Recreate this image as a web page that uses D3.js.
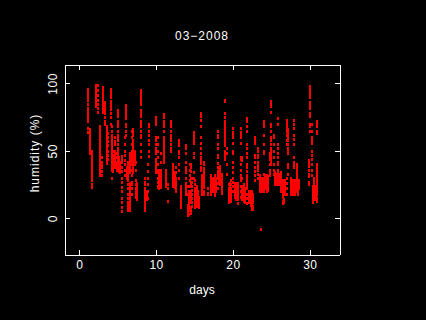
<!DOCTYPE html>
<html>
<head>
<meta charset="utf-8">
<script src="https://cdn.jsdelivr.net/npm/d3@7"></script>
<style>
html, body { margin: 0; padding: 0; background: #000; }
svg { display: block; }
text { font-family: "Liberation Sans", sans-serif; font-size: 12px; fill: #fff; }
</style>
</head>
<body>
<div id="chart"></div>
<script>
const TITLE = '03\u22122008';
const X_LABEL = 'days';
const Y_LABEL = 'humidity (%)';
const X_TICKS = [0, 10, 20, 30];
const Y_TICKS = [0, 50, 100];

// readings grouped by the time they were taken at: days[i] goes with humidity[i]
const days = [
    1.08, 1.39, 1.69, 2.12, 2.38, 2.68, 2.9, 3.1, 3.3, 3.55, 3.8, 4.07, 4.2, 4.6, 5.06, 5.5,
    6.06, 5.9, 6.4, 6.8, 7.0, 7.4, 8.0, 8.5, 9.05, 8.9, 10.05, 10.3, 10.7, 11.0, 11.3, 11.6,
    12.0, 12.2, 12.55, 13.0, 13.3, 13.85, 14.15, 14.5, 14.9, 14.4, 14.7, 15.0, 15.3, 15.6,
    15.9, 16.2, 16.0, 16.8, 17.2, 17.6, 18.0, 18.3, 18.6, 18.9, 19.2, 19.5, 19.8, 20.0,
    20.4, 20.7, 21.0, 21.2, 21.5, 21.8, 22.1, 22.5, 22.9, 23.3, 23.6, 24.0, 24.4, 24.8,
    25.0, 25.3, 25.5, 25.9, 26.3, 26.6, 27.0, 27.2, 27.6, 28.0, 28.3, 28.6, 29.9, 30.05,
    30.3, 30.6, 30.9,
    // second pass over the dense patches
    3.65, 4.45, 4.9, 5.2, 5.35, 6.2, 6.55, 6.6, 7.2, 7.45, 8.6, 8.75, 10.4, 10.6, 12.3, 12.5,
    14.3, 15.15, 15.45, 17.4, 17.8, 18.2, 19.65, 20.2, 20.6, 21.4, 22.3, 22.6, 23.5, 23.8,
    24.2, 24.6, 25.65, 25.8, 26.1, 26.45, 26.8, 27.8, 28.1, 28.4, 30.45, 30.75
];
const humidity = [
    [96, 94, 92, 90, 88, 85, 82, 80, 78, 76, 74, 72, 67, 64],
    [66, 64, 62, 60, 58, 56, 54, 52, 50, 48],
    [50, 48, 46, 44, 42, 40, 38, 36, 34, 32, 30, 28, 25, 23],
    [99, 97, 95, 93, 91, 89, 87, 85, 83],
    [99, 95, 91, 88, 85, 82, 79],
    [68, 66, 64, 62, 60, 58, 56, 54, 52, 50, 48, 46, 44, 42, 40, 38, 36, 34, 32],
    [45, 42, 40, 38, 35, 32],
    [97, 95, 93, 91, 89, 87, 85, 83, 81, 79],
    [86, 84, 82, 80, 78, 75, 72, 70],
    [68, 66, 64, 62, 60, 58, 56, 54, 50, 48, 46, 44, 42],
    [63, 60, 57, 54, 50, 47, 44],
    [96, 94, 92, 90, 87, 85, 83, 81, 78, 75, 70],
    [68, 65, 62, 60, 58, 56, 54, 52, 50, 48, 46, 44, 42, 40, 38, 36, 30],
    [60, 57, 55, 50, 48, 46, 44, 42, 40, 38],
    [80, 78, 76, 72, 70, 68, 65, 62, 60, 58, 55, 52, 50, 48, 46, 44, 42],
    [46, 44, 42, 38, 35, 30, 27, 23, 20, 15, 12, 8, 5],
    [84, 82, 80, 78, 76, 74, 70, 68, 65, 62],
    [60, 55, 50, 47, 43, 40, 36, 32],
    [42, 40, 38, 36, 34, 32, 30, 28, 25, 22, 18, 15, 12, 10, 8, 6],
    [65, 60, 55, 50, 48, 46, 44, 42, 40, 36, 32, 27, 25, 22, 18],
    [66, 64, 62, 58, 56, 54, 52, 50, 48, 46, 44, 42, 40, 38, 36, 34],
    [42, 36, 28, 25, 22, 20, 18, 16],
    [95, 93, 91, 89, 87, 85, 80, 78, 76, 72, 70, 68, 65, 62, 60, 55, 50, 45],
    [30, 27, 25, 22, 20, 18, 16, 14, 12, 10, 8, 6],
    [70, 68, 65, 62, 58, 55, 50, 46],
    [40, 35, 30, 25, 20, 15],
    [75, 74, 72, 70, 60, 58, 55, 52, 50, 48, 44, 42, 40, 38, 36, 34],
    [60, 55, 50, 45, 40, 36, 34, 30, 27, 24, 23],
    [48, 42, 36, 30, 24],
    [77, 75, 72, 70, 68, 65, 60, 58, 56, 54, 52, 50, 48, 46, 44, 42],
    [36, 34, 32, 30, 28, 26, 24],
    [25, 22, 13],
    [72, 70, 68, 65, 62, 60, 58, 55, 52, 50],
    [40, 38, 36, 34, 32, 30, 28, 26, 24],
    [38, 34, 30, 28, 26, 24, 22, 20],
    [58, 56, 54, 50, 48, 45, 40, 36, 30],
    [24, 22, 20, 18, 16, 14, 12, 10, 8],
    [54, 52, 48, 42, 38, 36, 34, 30, 26, 24, 22, 20, 18],
    [24, 18, 10, 8, 6, 4, 2],
    [40, 38, 35, 30, 26, 20, 18, 16, 14, 12, 8, 6, 4],
    [64, 62, 60, 58, 56, 48, 45, 34, 30],
    [40, 36, 32, 28, 24, 20, 16, 12, 8],
    [30, 27, 24, 21, 18, 15, 12, 9],
    [28, 25, 22, 20, 18, 16, 14, 12, 10, 8],
    [24, 22, 20, 18, 16, 14, 12, 10, 9],
    [16, 14, 12, 10, 8],
    [78, 77, 76, 73, 68, 60, 56, 52, 48, 45, 43, 41, 38, 36],
    [42, 40, 37, 35, 33, 31, 29, 27, 25, 23, 20, 18],
    [32, 30, 28, 26, 24, 22, 20, 18],
    [22, 19, 18],
    [32, 30, 28, 26, 24, 22, 20, 18],
    [32, 30, 28, 26, 24, 22, 20, 18, 17],
    [65, 62, 60, 55, 52, 47, 45, 41, 38, 35, 33, 32, 30, 26, 22],
    [39, 37, 35, 33, 31, 29, 27, 25],
    [33, 31, 29, 27, 25, 24, 22, 20, 19],
    [88, 87, 78, 75, 72, 70, 68, 66, 64, 62, 60, 58, 56, 54, 50, 48, 46, 44],
    [52, 48, 40, 33],
    [25, 22, 20, 18, 16, 14, 13, 12],
    [28, 25, 22, 20, 18, 16, 14, 13],
    [67, 64, 62, 60, 56, 50, 48, 42, 38, 34, 30, 27, 24, 20],
    [26, 24, 22, 20, 18, 16, 14],
    [24, 22, 20, 18, 14, 11],
    [67, 64, 62, 60, 56, 45, 44, 40, 36, 32, 30, 28, 24, 20, 16],
    [45, 44, 43, 30, 24, 22, 20, 18, 16, 14],
    [22, 20, 18, 16, 14, 12],
    [74, 72, 68, 65, 55, 52, 48, 45, 40, 38, 35, 32, 30, 28, 26, 24, 22, 18, 15, 11],
    [20, 18, 16, 14, 12],
    [20, 18, 16, 14, 12, 10, 8, 7],
    [60, 58, 56, 47, 45, 42, 38, 35, 32, 28],
    [52, 50, 47, 45, 42, 40, 38, 36, 33, 30],
    [28, 25, 22, 20, -8],
    [72, 70, 68, 62, 55, 50, 48, 33, 30, 28, 26, 24, 22, 20],
    [32, 30, 28, 26, 24, 22, 20],
    [48, 46, 44, 40, 36, 34, 32],
    [87, 85, 83, 79, 70, 68, 65, 60, 58, 55, 52, 50, 48, 46, 44, 42, 40],
    [62, 60, 55, 50, 45, 40, 36, 33],
    [34, 32, 30, 28, 26, 25],
    [74, 70, 55, 52, 48, 45, 42, 40, 36, 34, 32],
    [34, 32, 30, 28, 26, 24, 22, 20],
    [26, 22, 20, 18, 14, 12],
    [73, 71, 69, 67, 65, 62, 58, 55, 30, 26, 22, 18],
    [66, 64, 62, 60, 58, 55, 52, 50, 48, 40, 38, 33],
    [30, 28, 26, 24, 22, 20, 18],
    [73, 70, 67, 62, 59, 55, 45, 42, 40, 38],
    [40, 38, 36, 34, 32, 30, 28, 26, 24, 22, 20],
    [28, 26, 24, 22],
    [43, 41, 39, 36, 33, 31, 27, 25],
    [98, 96, 94, 92, 90, 86, 84, 82, 78, 77, 76, 70, 68, 65],
    [70, 65, 60, 58, 56, 50, 47, 44, 40, 36, 32],
    [30, 28, 26, 24, 22, 20, 18, 16, 14],
    [72, 70, 68, 65, 63, 40, 38, 36, 34, 32, 30, 28, 26, 24, 22, 20, 18, 15, 13],
    [55, 52, 50, 47, 44, 41],
    [50, 47, 45, 43, 41, 39, 37, 35],
    [48, 45, 42, 40, 38, 36],
    [45, 43, 41, 39, 37, 35],
    [42, 40, 38, 36, 34],
    [38, 36, 34, 32, 30],
    [26, 24, 22, 20, 18, 16, 14, 12, 10, 8, 6],
    [48, 46, 44, 42, 40, 38, 36, 34],
    [50, 48, 46, 44, 42, 40],
    [26, 24, 22, 20, 18, 16, 14],
    [21, 19, 17, 15, 13, 11, 9, 7],
    [20, 18, 16, 14],
    [36, 34, 32, 30, 28, 26, 24, 22],
    [34, 32, 30, 28, 26, 24, 23],
    [34, 32, 30, 28, 26, 24],
    [33, 31, 29, 27, 25, 23],
    [20, 18, 16, 14, 12, 10, 8, 6, 3],
    [22, 20, 18, 16, 14, 12, 10],
    [20, 18, 16, 14, 12],
    [30, 28, 26, 24, 22, 20],
    [30, 28, 26, 24, 22, 20],
    [38, 36, 34, 32, 30, 28],
    [26, 24, 22, 20, 18, 16, 14],
    [26, 24, 22, 20, 18, 16],
    [26, 24, 22, 20, 18, 16, 14],
    [25, 23, 21, 19, 17, 15, 13],
    [20, 18, 16, 14, 12, 10],
    [18, 16, 14, 12, 9, 7],
    [32, 30, 28, 26, 24, 22, 20],
    [30, 28, 26, 24, 22, 20],
    [32, 30, 28, 26, 24, 22],
    [31, 29, 27, 25, 23, 21],
    [33, 31, 29, 27, 25],
    [33, 31, 29, 27, 25],
    [33, 31, 29, 27, 25],
    [28, 26, 24, 22, 20, 18, 16, 13, 11],
    [28, 26, 24, 22, 20, 18],
    [28, 26, 24, 22, 20, 18],
    [28, 26, 24, 22, 20, 18],
    [26, 24, 22, 20, 18],
    [24, 22, 20, 18, 16, 14, 12],
    [24, 22, 20, 18, 16, 14]
];

const width = 426;
const height = 320;
const margin = { top: 64.5, right: 86.5, bottom: 65.5, left: 64.5 };
const plotWidth = width - margin.left - margin.right;
const plotHeight = height - margin.top - margin.bottom;

const x = d3.scaleLinear().domain([-1.92, 33.86]).range([0, plotWidth]);
const y = d3.scaleLinear().domain([-27, 114]).range([plotHeight, 0]);

const svg = d3.select('#chart').append('svg')
    .attr('width', width)
    .attr('height', height);

const plot = svg.append('g')
    .attr('transform', `translate(${margin.left},${margin.top})`);

// flatten the columns into single readings
const readings = [];
days.forEach(function(day, i) {
    humidity[i].forEach(function(value) {
        readings.push({ day: day, value: value });
    });
});

// marks are small solid blocks snapped to whole pixels
plot.selectAll('rect.reading')
    .data(readings)
    .enter()
    .append('rect')
    .attr('class', 'reading')
    .attr('x', function(d) { return Math.round(x(d.day) + margin.left) - 1 - margin.left; })
    .attr('y', function(d) { return Math.round(y(d.value) + margin.top) - 1.5 - margin.top + 0.5; })
    .attr('width', 2)
    .attr('height', 3)
    .attr('fill', '#ff0000')
    .attr('shape-rendering', 'crispEdges');

const axes = [
    { axis: d3.axisBottom(x).tickValues(X_TICKS), at: [0, plotHeight], labels: true },
    { axis: d3.axisTop(x).tickValues(X_TICKS), at: [0, 0], labels: false },
    { axis: d3.axisLeft(y).tickValues(Y_TICKS), at: [0, 0], labels: true, rotated: true },
    { axis: d3.axisRight(y).tickValues(Y_TICKS), at: [plotWidth, 0], labels: false }
];
axes.forEach(function(a) {
    const g = plot.append('g')
        .attr('transform', `translate(${a.at[0]},${a.at[1]})`)
        .call(a.axis.tickSizeOuter(0).tickSizeInner(-5).tickPadding(6));
    g.selectAll('path, line')
        .attr('stroke', '#fff')
        .attr('shape-rendering', 'crispEdges');
    g.selectAll('text')
        .style('font-family', '"Liberation Sans", sans-serif')
        .style('font-size', '12px')
        .style('letter-spacing', '0.5px')
        .attr('fill', '#fff');
    if (!a.labels) {
        g.selectAll('text').remove();
    }
    // left tick labels read bottom to top
    if (a.rotated) {
        g.selectAll('.tick text')
            .attr('transform', 'rotate(-90)')
            .attr('text-anchor', 'middle')
            .attr('x', 0)
            .attr('y', -8)
            .attr('dy', 0);
    }
});

svg.append('text')
    .attr('x', 202)
    .attr('y', 40)
    .attr('text-anchor', 'middle')
    .style('letter-spacing', '1px')
    .text(TITLE);

svg.append('text')
    .attr('x', 202)
    .attr('y', 294)
    .attr('text-anchor', 'middle')
    .text(X_LABEL);

svg.append('text')
    .attr('transform', 'translate(39,153) rotate(-90)')
    .attr('text-anchor', 'middle')
    .style('letter-spacing', '1px')
    .text(Y_LABEL);
</script>
</body>
</html>
